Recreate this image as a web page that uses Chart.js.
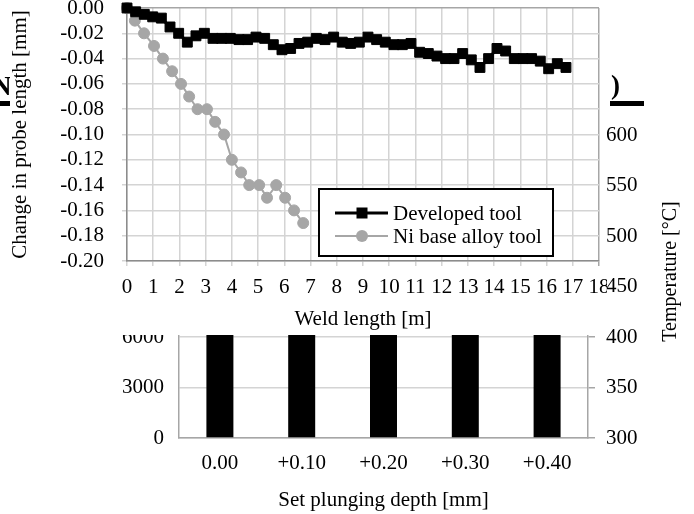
<!DOCTYPE html>
<html>
<head>
<meta charset="utf-8">
<script src="https://cdn.jsdelivr.net/npm/chart.js@4.4.1/dist/chart.umd.min.js"></script>
<style>
  html, body { margin: 0; padding: 0; background: #fff; }
  #wrap { position: relative; width: 694px; height: 514px; overflow: hidden; }
  #backChart { position: absolute; left: 0; top: 0; z-index: 0; }
  #frontChart { position: absolute; left: 10px; top: 0; background: #fff; z-index: 2; }
  .frag { position: absolute; font-family: 'Liberation Serif', serif; font-weight: bold; font-size: 27px; line-height: 1; color: #000; z-index: 1; }
  .rule { position: absolute; height: 5px; background: #000; z-index: 1; }
</style>
</head>
<body>
<div id="wrap">
  <canvas id="backChart" width="694" height="514"></canvas>
  <span class="frag" style="left:-8px; top:73px;">N</span>
  <div class="rule" style="left:0; top:101px; width:12px;"></div>
  <span class="frag" style="left:611px; top:72px;">)</span>
  <div class="rule" style="left:610px; top:101px; width:34px;"></div>
  <canvas id="frontChart" width="597" height="335"></canvas>
</div>
<script>
// weld length [m] / change in probe length [mm]
const weldDeveloped = [0, 0.33, 0.66, 0.98, 1.31, 1.64, 1.97, 2.30, 2.63, 2.95, 3.28, 3.61, 3.94, 4.27, 4.60,
  4.92, 5.25, 5.58, 5.91, 6.24, 6.56, 6.89, 7.22, 7.55, 7.88, 8.21, 8.53, 8.86, 9.19, 9.52, 9.85,
  10.18, 10.50, 10.83, 11.16, 11.49, 11.82, 12.15, 12.47, 12.80, 13.13, 13.46, 13.79, 14.11, 14.44,
  14.77, 15.10, 15.43, 15.76, 16.08, 16.41, 16.74];
const changeDeveloped = [0, -0.003, -0.005, -0.007, -0.008, -0.015, -0.020, -0.027, -0.022, -0.020, -0.024,
  -0.024, -0.024, -0.025, -0.025, -0.023, -0.024, -0.029, -0.033, -0.032, -0.028, -0.027, -0.024,
  -0.025, -0.023, -0.027, -0.028, -0.027, -0.023, -0.025, -0.027, -0.029, -0.029, -0.028, -0.035,
  -0.036, -0.038, -0.040, -0.040, -0.036, -0.041, -0.047, -0.040, -0.032, -0.034, -0.040, -0.040,
  -0.040, -0.042, -0.048, -0.044, -0.047];

const weldNi = [0, 0.3, 0.65, 1.03, 1.37, 1.72, 2.06, 2.37, 2.69, 3.05, 3.36, 3.70, 4.0, 4.35, 4.66,
  5.04, 5.34, 5.69, 6.03, 6.37, 6.72];
const changeNi = [0, -0.01, -0.02, -0.03, -0.04, -0.05, -0.06, -0.07, -0.08, -0.08, -0.09, -0.10, -0.12,
  -0.13, -0.14, -0.14, -0.15, -0.14, -0.15, -0.16, -0.17];

// background chart (mostly hidden behind the line chart)
const depthLabels = ["0.00", "+0.10", "+0.20", "+0.30", "+0.40"];
const barValues = [9000, 9000, 9000, 9000, 9000];
const countTicks = [0, 3000, 6000, 9000, 12000, 15000, 18000];
const tempTicks = [300, 350, 400, 450, 500, 550, 600];

Chart.defaults.font.family = "'Liberation Serif', 'Times New Roman', serif";
Chart.defaults.font.size = 21;
Chart.defaults.color = "#000";

const gridGray = "#d4d4d4";
const borderGray = "#a6a6a6";
const axisGray = "#8c8c8c";

// legend drawn inside the plot, line - marker - line like the original
const legendBox = {
    id: "legendBox",
    afterDatasetsDraw(chart) {
        const ctx = chart.ctx;
        const ca = chart.chartArea;
        const x = ca.left + 192, y = ca.top + 181, w = 234, h = 67;
        ctx.save();
        ctx.fillStyle = "#fff";
        ctx.fillRect(x, y, w, h);
        ctx.strokeStyle = "#000";
        ctx.lineWidth = 2;
        ctx.strokeRect(x, y, w, h);
        chart.data.datasets.forEach((ds, i) => {
            const cy = y + 24 + i * 23;
            ctx.strokeStyle = ds.borderColor;
            ctx.lineWidth = ds.borderWidth;
            ctx.beginPath();
            ctx.moveTo(x + 16, cy);
            ctx.lineTo(x + 69, cy);
            ctx.stroke();
            ctx.fillStyle = ds.backgroundColor;
            if (ds.pointStyle === "rect") {
                ctx.fillRect(x + 43 - 5.5, cy - 5.5, 11, 11);
            } else {
                ctx.beginPath();
                ctx.arc(x + 43, cy, 6, 0, Math.PI * 2);
                ctx.fill();
            }
            ctx.fillStyle = "#000";
            ctx.font = "21px 'Liberation Serif'";
            ctx.textBaseline = "middle";
            ctx.textAlign = "left";
            ctx.fillText(ds.label, x + 74, cy + 1);
        });
        ctx.restore();
    }
};

// right axis title reads bottom to top
const tempTitle = {
    id: "tempTitle",
    afterDraw(chart) {
        const s = chart.scales.y2;
        const ctx = chart.ctx;
        ctx.save();
        ctx.translate(s.right - 23, (s.top + s.bottom) / 2);
        ctx.rotate(-Math.PI / 2);
        ctx.font = "20px 'Liberation Serif'";
        ctx.fillStyle = "#000";
        ctx.textAlign = "center";
        ctx.textBaseline = "middle";
        ctx.fillText("Temperature [°C]", 0, 0);
        ctx.restore();
    }
};

new Chart(document.getElementById("backChart"), {
    type: "bar",
    data: {
        labels: depthLabels,
        datasets: [{
            data: barValues,
            backgroundColor: "#000",
            barPercentage: 0.33,
            categoryPercentage: 1,
            yAxisID: "y"
        }]
    },
    options: {
        responsive: false,
        animation: false,
        layout: { padding: { top: 105, left: 0, right: 0, bottom: 0 } },
        plugins: { legend: { display: false }, tooltip: { enabled: false } },
        scales: {
            x: {
                grid: { drawOnChartArea: false, drawTicks: false },
                border: { color: borderGray, width: 1.5 },
                ticks: { padding: 13 },
                title: { display: true, text: "Set plunging depth [mm]", padding: { top: 0, bottom: 1 } },
                afterFit(s) { s.height = 76; s.paddingLeft = 0; s.paddingRight = 0; }
            },
            y: {
                position: "left",
                min: 0,
                max: 19800,
                afterBuildTicks(s) { s.ticks = countTicks.map(v => ({ value: v })); },
                ticks: { padding: 15, autoSkip: false, callback: v => String(v) },
                grid: { color: gridGray, lineWidth: 1.5, drawTicks: false },
                border: { color: borderGray, width: 1.5 },
                afterFit(s) { s.width = 179; s.paddingTop = 0; s.paddingBottom = 0; }
            },
            y2: {
                position: "right",
                min: 300,
                max: 630,
                afterBuildTicks(s) { s.ticks = tempTicks.map(v => ({ value: v })); },
                ticks: { padding: 11, autoSkip: false, callback: v => String(v) },
                grid: { drawOnChartArea: false, tickLength: 7, color: borderGray, lineWidth: 1.5 },
                border: { color: borderGray, width: 1.5 },
                afterFit(s) { s.width = 106; s.paddingTop = 0; s.paddingBottom = 0; }
            }
        }
    },
    plugins: [tempTitle]
});

new Chart(document.getElementById("frontChart"), {
    type: "line",
    data: {
        datasets: [
            {
                label: "Developed tool",
                data: weldDeveloped.map((x, i) => ({ x: x, y: changeDeveloped[i] })),
                borderColor: "#000",
                backgroundColor: "#000",
                borderWidth: 3,
                pointStyle: "rect",
                pointRadius: 7,
                pointBorderWidth: 1,
                tension: 0,
                clip: false
            },
            {
                label: "Ni base alloy tool",
                data: weldNi.map((x, i) => ({ x: x, y: changeNi[i] })),
                borderColor: "#a6a6a6",
                backgroundColor: "#a6a6a6",
                borderWidth: 2,
                pointStyle: "circle",
                pointRadius: 5.5,
                pointBorderWidth: 1,
                tension: 0,
                clip: false
            }
        ]
    },
    options: {
        responsive: false,
        animation: false,
        layout: { padding: { top: 8, right: 8, left: 0, bottom: 0 } },
        plugins: { legend: { display: false }, tooltip: { enabled: false } },
        scales: {
            x: {
                type: "linear",
                min: 0,
                max: 18,
                ticks: { stepSize: 1, padding: 9, autoSkip: false, maxRotation: 0 },
                grid: {
                    tickLength: 5,
                    lineWidth: 1.5,
                    color: c => (c.tick && c.tick.value === 18 ? borderGray : gridGray)
                },
                border: { color: axisGray, width: 1.5 },
                title: { display: true, text: "Weld length [m]", padding: { top: 0, bottom: 3 } },
                afterFit(s) { s.height = 74; s.paddingLeft = 0; s.paddingRight = 0; }
            },
            y: {
                min: -0.2,
                max: 0,
                ticks: { stepSize: 0.02, padding: 18, autoSkip: false, callback: v => v.toFixed(2) },
                grid: {
                    tickLength: 5,
                    lineWidth: 1.5,
                    color: c => (c.tick && Math.abs(c.tick.value) < 1e-9 ? borderGray : gridGray)
                },
                border: { color: axisGray, width: 1.5 },
                title: {
                    display: true,
                    text: "Change in probe length [mm]",
                    font: { size: 21, lineHeight: 1 },
                    padding: { top: 0, bottom: 0 }
                },
                afterFit(s) { s.width = 117; s.paddingTop = 0; s.paddingBottom = 0; }
            }
        }
    },
    plugins: [legendBox]
});
</script>
</body>
</html>
